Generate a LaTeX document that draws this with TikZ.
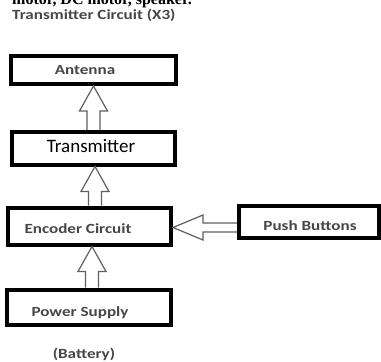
\documentclass[tikz,border=0pt]{standalone}
\usepackage{fontspec}
\usepackage{graphicx}
\setmainfont{Carlito}
\newfontfamily\serifface{Liberation Serif}
\usetikzlibrary{calc}

\definecolor{labelgray}{RGB}{70,70,70}
\definecolor{arrowgray}{RGB}{95,95,95}

% labels are set a little wider than the font's natural width
\newcommand{\wide}[1]{\scalebox{1.22}[1]{#1}}
% move a label inside its box: #1 horizontal shift, #2 raise (both in px)
\newcommand{\placed}[3]{\hspace*{\dimexpr #1pt*2\relax}\raisebox{#2pt}{#3}}

\tikzset{
  block/.style={draw=black, line width=4pt, fill=white, inner sep=0pt,
    text height=9pt, text depth=0pt, text=labelgray,
    font=\bfseries\fontsize{14}{16}\selectfont},
  caption/.style={inner sep=0pt, text height=9pt, text depth=0pt, text=labelgray,
    font=\bfseries\fontsize{14}{16}\selectfont},
  hollow/.style={draw=arrowgray, line width=1.2pt, line join=miter}
}

% hollow block arrow pointing up, from the top of #1 to the bottom of #2, axis at x=#3
\newcommand{\upblock}[3]{%
  \draw[hollow] let \p1=(#1.north), \p2=(#2.south) in
    ({#3pt-6.5pt},\y1) -- ({#3pt-6.5pt},{\y2-25pt}) -- ({#3pt-14pt},{\y2-25pt})
    -- (#3pt,\y2) -- ({#3pt+14pt},{\y2-25pt}) -- ({#3pt+6.5pt},{\y2-25pt})
    -- ({#3pt+6.5pt},\y1);}

% hollow block arrow pointing left, from the left side of #1 to the right side of #2, axis at row #3
\newcommand{\leftblock}[3]{%
  \draw[hollow] let \p1=(#1.west), \p2=(#2.east) in
    (\x1,{-#3pt+4.5pt}) -- ({\x2+30pt},{-#3pt+4.5pt}) -- ({\x2+30pt},{-#3pt+12.5pt})
    -- (\x2,{-#3pt}) -- ({\x2+30pt},{-#3pt-12.5pt}) -- ({\x2+30pt},{-#3pt-4.5pt})
    -- (\x1,{-#3pt-4.5pt});}

\begin{document}
\begin{tikzpicture}[x=1pt, y=-1pt]
  \useasboundingbox (0,0) rectangle (381,362);
  \clip (0,0) rectangle (381,362);

  % running text of the page, cut by the top edge
  \node[inner sep=0pt, anchor=base west, font=\serifface\bfseries\fontsize{16}{18}\selectfont]
    (runon) at (12,4) {motor, DC motor, speaker.};

  \node[caption, anchor=west] (title) at (12,15) {\wide{Transmitter Circuit (X3)}};

  % blocks
  \node[block, minimum width=165pt, minimum height=28pt] (antenna) at (93,70)
    {\placed{-8}{0.5}{\wide{Antenna}}};
  \node[block, minimum width=163pt, minimum height=32.5pt, text=black,
        font=\fontsize{19}{21}\selectfont, text height=12pt] (tx) at (93,148.25)
    {\placed{-2}{2.25}{Transmitter}};
  \node[block, minimum width=163.5pt, minimum height=37pt] (enc) at (89.25,226)
    {\placed{-11.25}{-3}{\wide{Encoder Circuit}}};
  \node[block, minimum width=140pt, minimum height=32.5pt] (push) at (309,221.75)
    {\placed{1}{-4.25}{\wide{Push Buttons}}};
  \node[block, minimum width=164pt, minimum height=35pt] (power) at (89,307)
    {\placed{-9}{-5}{\wide{Power Supply}}};

  \node[caption] (battery) at (84,354) {\wide{(Battery)}};

  % connectors
  \upblock{tx}{antenna}{93.5}
  \upblock{enc}{tx}{95}
  \upblock{power}{enc}{92}
  \leftblock{push}{enc}{227.5}
\end{tikzpicture}
\end{document}
